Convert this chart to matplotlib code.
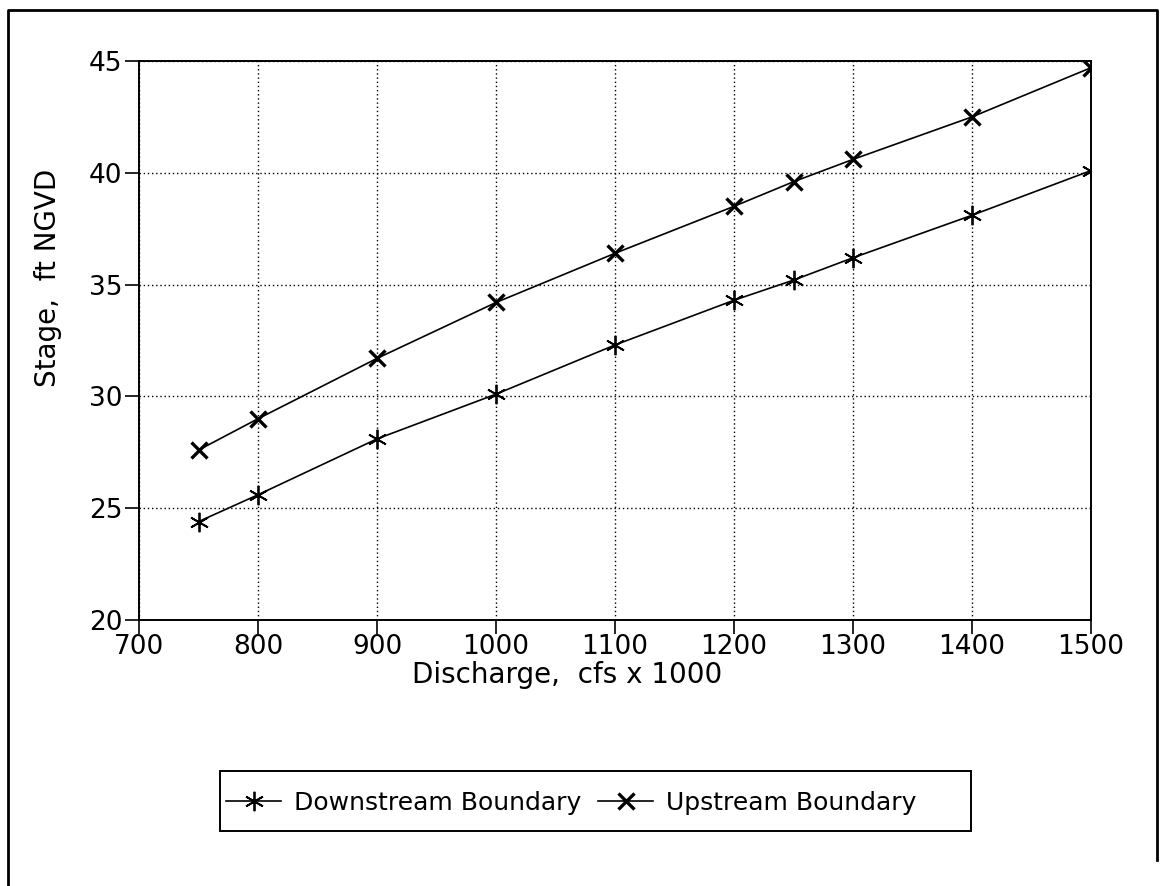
import matplotlib
matplotlib.use("Agg")
import matplotlib.pyplot as plt
from matplotlib.lines import Line2D
from matplotlib.patches import Rectangle

discharge = [750, 800, 900, 1000, 1100, 1200, 1250, 1300, 1400, 1500]
downstream = [24.4, 25.6, 28.1, 30.1, 32.3, 34.3, 35.2, 36.2, 38.1, 40.1]
upstream = [27.6, 29.0, 31.7, 34.2, 36.4, 38.5, 39.6, 40.6, 42.5, 44.7]

x_ticks = [700, 800, 900, 1000, 1100, 1200, 1300, 1400, 1500]
y_ticks = [20, 25, 30, 35, 40, 45]

W, H = 1160, 886
fig = plt.figure(figsize=(W / 100, H / 100), dpi=100)
ax = fig.add_axes([139 / W, 1 - 620 / H, (1091 - 139) / W, (620 - 61) / H])

ax.plot(discharge, downstream, color="black", lw=1.2,
        marker=(6, 2, 0), markersize=14, markeredgewidth=1.3,
        label="Downstream Boundary")
ax.plot(discharge, upstream, color="black", lw=1.2,
        marker="x", markersize=12, markeredgewidth=2.4,
        label="Upstream Boundary")

ax.set_xlim(700, 1500)
ax.set_ylim(20, 45)
ax.set_xticks(x_ticks)
ax.set_yticks(y_ticks)
ax.grid(True, color="black", linestyle=(0, (1, 2)), linewidth=1)
ax.tick_params(axis="both", direction="out", length=10, width=1.2,
               labelsize=19, pad=2, top=False, right=False)
ax.tick_params(axis="x", pad=0)
for s in ax.spines.values():
    s.set_linewidth(1.4)

ax.set_xlabel("Discharge,  cfs x 1000", fontsize=20)
ax.set_ylabel("Stage,  ft NGVD", fontsize=20)
ax.xaxis.set_label_coords((567 - 139) / 952, (620 - 661) / 559)
ax.yaxis.set_label_coords((62 - 139) / 952, (620 - 278) / 559)

# legend without frame, box drawn separately
leg = fig.legend(loc="center left", bbox_to_anchor=(226 / W, 1 - 803 / H),
                 ncol=2, frameon=False, fontsize=18, handlelength=2.2,
                 handletextpad=0.5, columnspacing=0.7, borderpad=0,
                 borderaxespad=0)
fig.patches.append(Rectangle((220 / W, 1 - 831 / H), (971 - 220) / W, 60 / H,
                             transform=fig.transFigure, fill=False,
                             edgecolor="black", lw=1.4))

# outer border
fig.lines.append(Line2D([8 / W, 8 / W, 1157 / W, 1157 / W],
                        [0, 1 - 10 / H, 1 - 10 / H, 1 - 860 / H],
                        transform=fig.transFigure, color="black", lw=2))

fig.savefig("out.png", dpi=100)
